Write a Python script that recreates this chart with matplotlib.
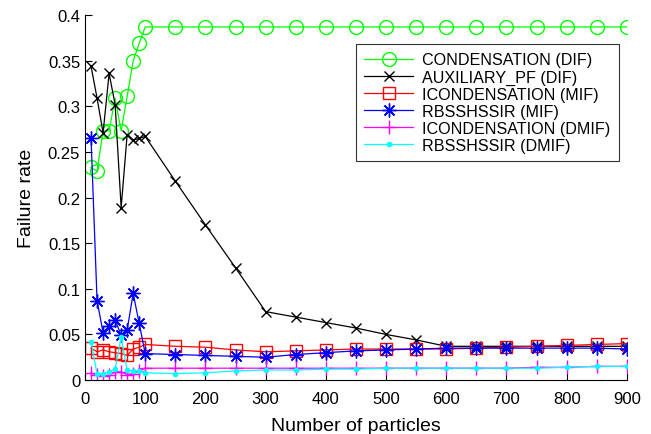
import numpy as np
import matplotlib.pyplot as plt

plt.rcParams['font.family'] = ['Liberation Sans', 'DejaVu Sans']

# number of particles
n = [10, 20, 30, 40, 50, 60, 70, 80, 90, 100, 150, 200, 250, 300, 350,
     400, 450, 500, 550, 600, 650, 700, 750, 800, 850, 900]

cond_dif = [0.233, 0.229, 0.273, 0.273, 0.309, 0.273, 0.311, 0.350, 0.369, 0.387,
            0.387, 0.387, 0.387, 0.387, 0.387, 0.387, 0.387, 0.387, 0.387, 0.387,
            0.387, 0.387, 0.387, 0.387, 0.387, 0.387]
aux_dif = [0.344, 0.309, 0.271, 0.336, 0.302, 0.189, 0.269, 0.263, 0.265, 0.267,
           0.218, 0.170, 0.123, 0.075, 0.069, 0.063, 0.057, 0.050, 0.044, 0.037,
           0.037, 0.037, 0.037, 0.037, 0.037, 0.037]
icond_mif = [0.035, 0.031, 0.033, 0.031, 0.030, 0.029, 0.027, 0.034, 0.036, 0.039,
             0.037, 0.036, 0.033, 0.031, 0.032, 0.033, 0.034, 0.034, 0.034, 0.034,
             0.035, 0.036, 0.037, 0.038, 0.039, 0.040]
rbs_mif = [0.265, 0.087, 0.052, 0.059, 0.066, 0.049, 0.055, 0.095, 0.062, 0.029,
           0.028, 0.027, 0.026, 0.025, 0.028, 0.030, 0.032, 0.033, 0.034, 0.035,
           0.035, 0.035, 0.035, 0.035, 0.035, 0.034]
icond_dmif = [0.008, 0.005, 0.004, 0.005, 0.009, 0.009, 0.006, 0.007, 0.010, 0.013,
              0.013, 0.013, 0.013, 0.013, 0.013, 0.013, 0.013, 0.013, 0.013, 0.013,
              0.013, 0.013, 0.014, 0.014, 0.015, 0.015]
rbs_dmif = [0.042, 0.007, 0.007, 0.009, 0.012, 0.047, 0.011, 0.010, 0.010, 0.008,
            0.007, 0.008, 0.010, 0.011, 0.011, 0.012, 0.012, 0.013, 0.013, 0.013,
            0.013, 0.013, 0.013, 0.014, 0.015, 0.015]

fig = plt.figure(figsize=(6.51, 4.35), dpi=100)
ax = fig.add_axes([0.1306, 0.124, 0.8324, 0.839])

lw = 0.9
ax.plot(n, cond_dif, color=(0, 1, 0), marker='o', ms=10, mfc='none', lw=lw,
        label='CONDENSATION (DIF)')
ax.plot(n, aux_dif, color='k', marker='x', ms=7, lw=lw, label='AUXILIARY_PF (DIF)')
ax.plot(n, icond_mif, color='r', marker='s', ms=8, mfc='none', lw=lw,
        label='ICONDENSATION (MIF)')
ax.plot(n, rbs_mif, color='b', marker=(8, 2, 0), ms=10, lw=lw,
        label='RBSSHSSIR (MIF)')
ax.plot(n, icond_dmif, color=(1, 0, 1), marker='+', ms=10, lw=lw,
        label='ICONDENSATION (DMIF)')
ax.plot(n, rbs_dmif, color=(0, 1, 1), marker='.', ms=6, lw=lw,
        label='RBSSHSSIR (DMIF)')

ax.set_xlim(0, 900)
ax.set_ylim(0, 0.4)
ax.set_xticks(np.arange(0, 901, 100))
ax.set_yticks(np.arange(0, 0.41, 0.05))
ax.set_yticklabels(['0', '0.05', '0.1', '0.15', '0.2', '0.25', '0.3', '0.35', '0.4'])
ax.tick_params(direction='in', length=5, labelsize=12, width=0.8)
ax.tick_params(axis='x', pad=8)
for s in ['top', 'right']:
    ax.spines[s].set_visible(False)
ax.set_xlabel('Number of particles', fontsize=14, labelpad=8)
ax.set_ylabel('Failure rate', fontsize=14, labelpad=9)

leg = ax.legend(loc='upper right', bbox_to_anchor=(0.985, 0.92), fontsize=11.6,
                frameon=True, fancybox=False, edgecolor='k', handlelength=3.0,
                borderpad=0.5, labelspacing=0.13, handletextpad=0.6,
                borderaxespad=0)
leg.get_frame().set_linewidth(0.8)

fig.savefig('out.png', dpi=100)
